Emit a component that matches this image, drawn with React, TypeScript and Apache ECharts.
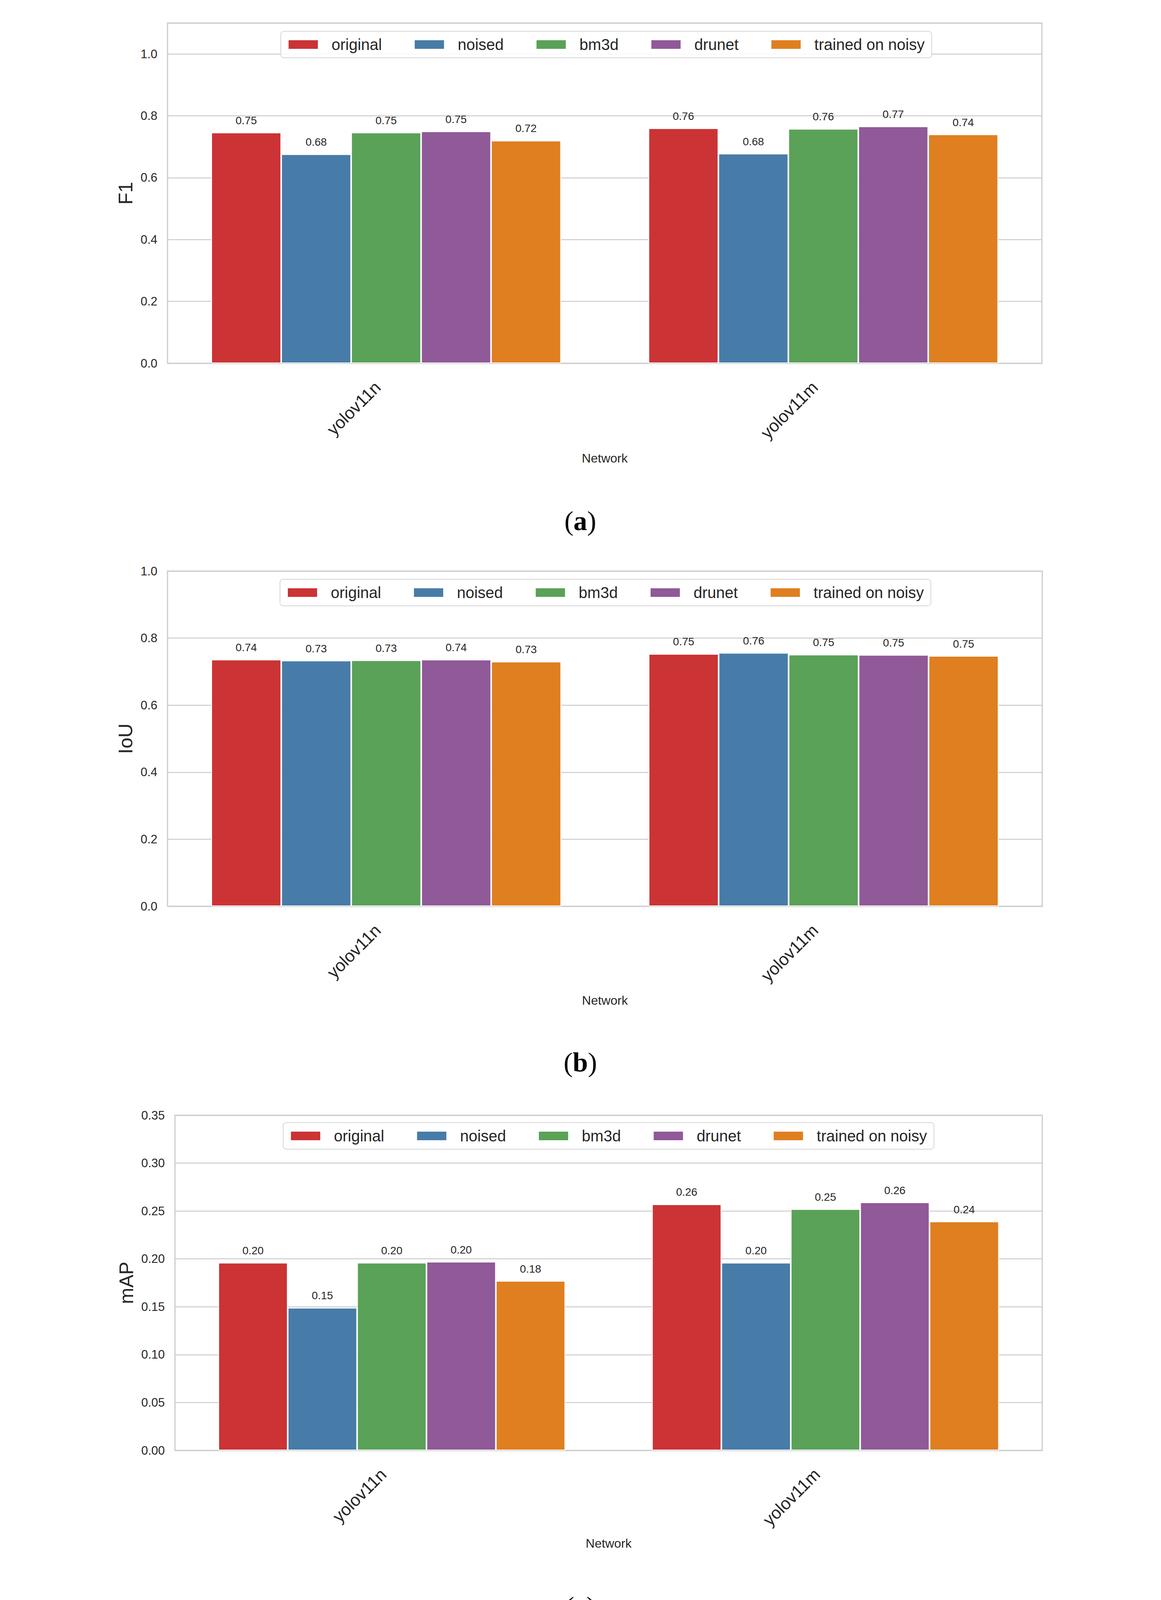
import React, { useEffect, useRef } from "react";
import * as echarts from "echarts";

// ---------- data ----------
const CATS_TWO = ["yolov11n", "yolov11m"];
const CATS_SIX = ["yolov5n", "yolov5m", "yolov8n", "yolov8m", "yolov11n", "yolov11m"];
const METHODS_FIVE = ["original", "noised", "bm3d", "drunet", "trained on noisy"];
const METHODS_FOUR = ["original", "noised", "bm3d", "drunet"];

// rows follow METHODS order, columns follow categories
const F1_VALUES = [
  [0.746, 0.76],
  [0.676, 0.678],
  [0.746, 0.758],
  [0.75, 0.766],
  [0.72, 0.74],
];
const IOU_VALUES = [
  [0.736, 0.753],
  [0.733, 0.756],
  [0.734, 0.751],
  [0.736, 0.75],
  [0.73, 0.747],
];
const MAP_TWO_VALUES = [
  [0.196, 0.257],
  [0.149, 0.196],
  [0.196, 0.252],
  [0.197, 0.259],
  [0.177, 0.239],
];
const MAP_SIX_VALUES = [
  [0.133, 0.251, 0.194, 0.261, 0.196, 0.257],
  [0.117, 0.197, 0.146, 0.196, 0.148, 0.196],
  [0.131, 0.249, 0.194, 0.257, 0.196, 0.252],
  [0.134, 0.253, 0.197, 0.262, 0.197, 0.259],
];

const Y_NAMES = ["F1", "IoU", "mAP", "mAP"];
const X_NAME = "Network";
const CAPTIONS = ["a", "b", "c", "d"];

const COLORS: Record<string, string> = {
  original: "#cb3335",
  noised: "#477ca8",
  bm3d: "#59a257",
  drunet: "#905998",
  "trained on noisy": "#df7f20",
};

// ---------- layout / style ----------
const FONT = "'Liberation Sans', Arial, Helvetica, sans-serif";
const SERIF = "'Liberation Serif', 'Times New Roman', serif";
const TXT = "#262626";
const GRIDC = "#cccccc";
const W = 2973;
const H = 5542;

const PANELS = [
  { cats: CATS_TWO, methods: METHODS_FIVE, values: F1_VALUES, left: 429, top: 59, width: 2239, height: 871, max: 1.1, interval: 0.2, dec: 1, hideMax: true, legendLeft: 719, legendTop: 80, yLabX: 322, netY: 1173, capY: 1333 },
  { cats: CATS_TWO, methods: METHODS_FIVE, values: IOU_VALUES, left: 429, top: 1462, width: 2240, height: 858, max: 1.0, interval: 0.2, dec: 1, hideMax: false, legendLeft: 717, legendTop: 1483, yLabX: 322, netY: 2561, capY: 2719 },
  { cats: CATS_TWO, methods: METHODS_FIVE, values: MAP_TWO_VALUES, left: 448, top: 2855, width: 2221, height: 858, max: 0.35, interval: 0.05, dec: 2, hideMax: false, legendLeft: 725, legendTop: 2874, yLabX: 324, netY: 3951, capY: 4112 },
  { cats: CATS_SIX, methods: METHODS_FOUR, values: MAP_SIX_VALUES, left: 164, top: 4244, width: 2765, height: 830, max: 0.6, interval: 0.1, dec: 1, hideMax: false, legendLeft: 973, legendTop: 4264, yLabX: 61, netY: 5305, capY: 5463 },
];

function buildOption() {
  const grid: any[] = [];
  const xAxis: any[] = [];
  const yAxis: any[] = [];
  const series: any[] = [];
  const legend: any[] = [];
  const graphic: any[] = [];

  PANELS.forEach((p, i) => {
    grid.push({
      left: p.left,
      top: p.top,
      width: p.width,
      height: p.height,
      show: true,
      borderColor: GRIDC,
      borderWidth: 3,
      backgroundColor: "transparent",
      containLabel: false,
    });
    xAxis.push({
      type: "category",
      gridIndex: i,
      data: p.cats,
      axisLine: { show: false },
      axisTick: { show: false },
      splitLine: { show: false },
      axisLabel: {
        rotate: 45,
        interval: 0,
        margin: 32,
        padding: [0, 31, 0, 0],
        fontSize: 44,
        fontFamily: FONT,
        color: TXT,
      },
    });
    yAxis.push({
      type: "value",
      gridIndex: i,
      min: 0,
      max: p.max,
      interval: p.interval,
      axisLine: { show: false },
      axisTick: { show: false },
      splitLine: { show: true, lineStyle: { color: GRIDC, width: 2.5 } },
      axisLabel: {
        margin: 26,
        fontSize: 31,
        fontFamily: FONT,
        color: TXT,
        showMaxLabel: !p.hideMax,
        formatter: (v: number) => (v > p.max - 1e-9 && p.hideMax ? "" : v.toFixed(p.dec)),
      },
    });
    p.methods.forEach((m, k) => {
      series.push({
        type: "bar",
        name: m,
        xAxisIndex: i,
        yAxisIndex: i,
        data: p.values[k],
        barGap: "0%",
        barCategoryGap: "20%",
        itemStyle: { color: COLORS[m], borderColor: "#ffffff", borderWidth: 2 },
        label: {
          show: true,
          position: "top",
          distance: 17,
          fontSize: 28,
          fontFamily: FONT,
          color: TXT,
          formatter: (q: any) => Number(q.value).toFixed(2),
        },
        z: 3,
      });
    });
    legend.push({
      data: p.methods,
      left: p.legendLeft,
      top: p.legendTop,
      orient: "horizontal",
      itemWidth: 77,
      itemHeight: 24,
      itemGap: 82,
      icon: "rect",
      padding: [12, 18],
      backgroundColor: "rgba(255,255,255,0.85)",
      borderColor: "#d6d6d6",
      borderWidth: 2,
      borderRadius: 8,
      selectedMode: false,
      textStyle: {
        fontSize: 40,
        fontFamily: FONT,
        color: TXT,
        lineHeight: 44,
        padding: [0, 0, 0, 29],
      },
      z: 10,
    });
    const cx = p.left + p.width / 2;
    const cy = p.top + p.height / 2;
    graphic.push({
      type: "text",
      x: p.yLabX,
      y: cy,
      rotation: Math.PI / 2,
      style: {
        text: Y_NAMES[i],
        fontSize: 50,
        fontFamily: FONT,
        fill: TXT,
        align: "center",
        verticalAlign: "middle",
      },
    });
    graphic.push({
      type: "text",
      x: cx,
      y: p.netY,
      style: {
        text: X_NAME,
        fontSize: 32,
        fontFamily: FONT,
        fill: TXT,
        align: "center",
        verticalAlign: "middle",
      },
    });
    graphic.push({
      type: "text",
      x: 1486,
      y: p.capY,
      style: {
        text: "{n|(}{b|" + CAPTIONS[i] + "}{n|)}",
        align: "center",
        verticalAlign: "middle",
        fill: "#000",
        rich: {
          n: { fontSize: 70, fontFamily: SERIF, fill: "#000" },
          b: { fontSize: 70, fontFamily: SERIF, fontWeight: "bold", fill: "#000" },
        },
      },
    });
  });

  return {
    animation: false,
    backgroundColor: "#ffffff",
    grid,
    xAxis,
    yAxis,
    series,
    legend,
    graphic,
  };
}

export default function App() {
  const ref = useRef<HTMLDivElement>(null);
  useEffect(() => {
    if (!ref.current) return;
    const chart = echarts.init(ref.current, undefined, { renderer: "svg", width: W, height: H });
    chart.setOption(buildOption() as any);
    return () => chart.dispose();
  }, []);
  return (
    <div
      ref={ref}
      style={{ position: "absolute", left: 0, top: 0, width: W, height: H, background: "#fff" }}
    />
  );
}
